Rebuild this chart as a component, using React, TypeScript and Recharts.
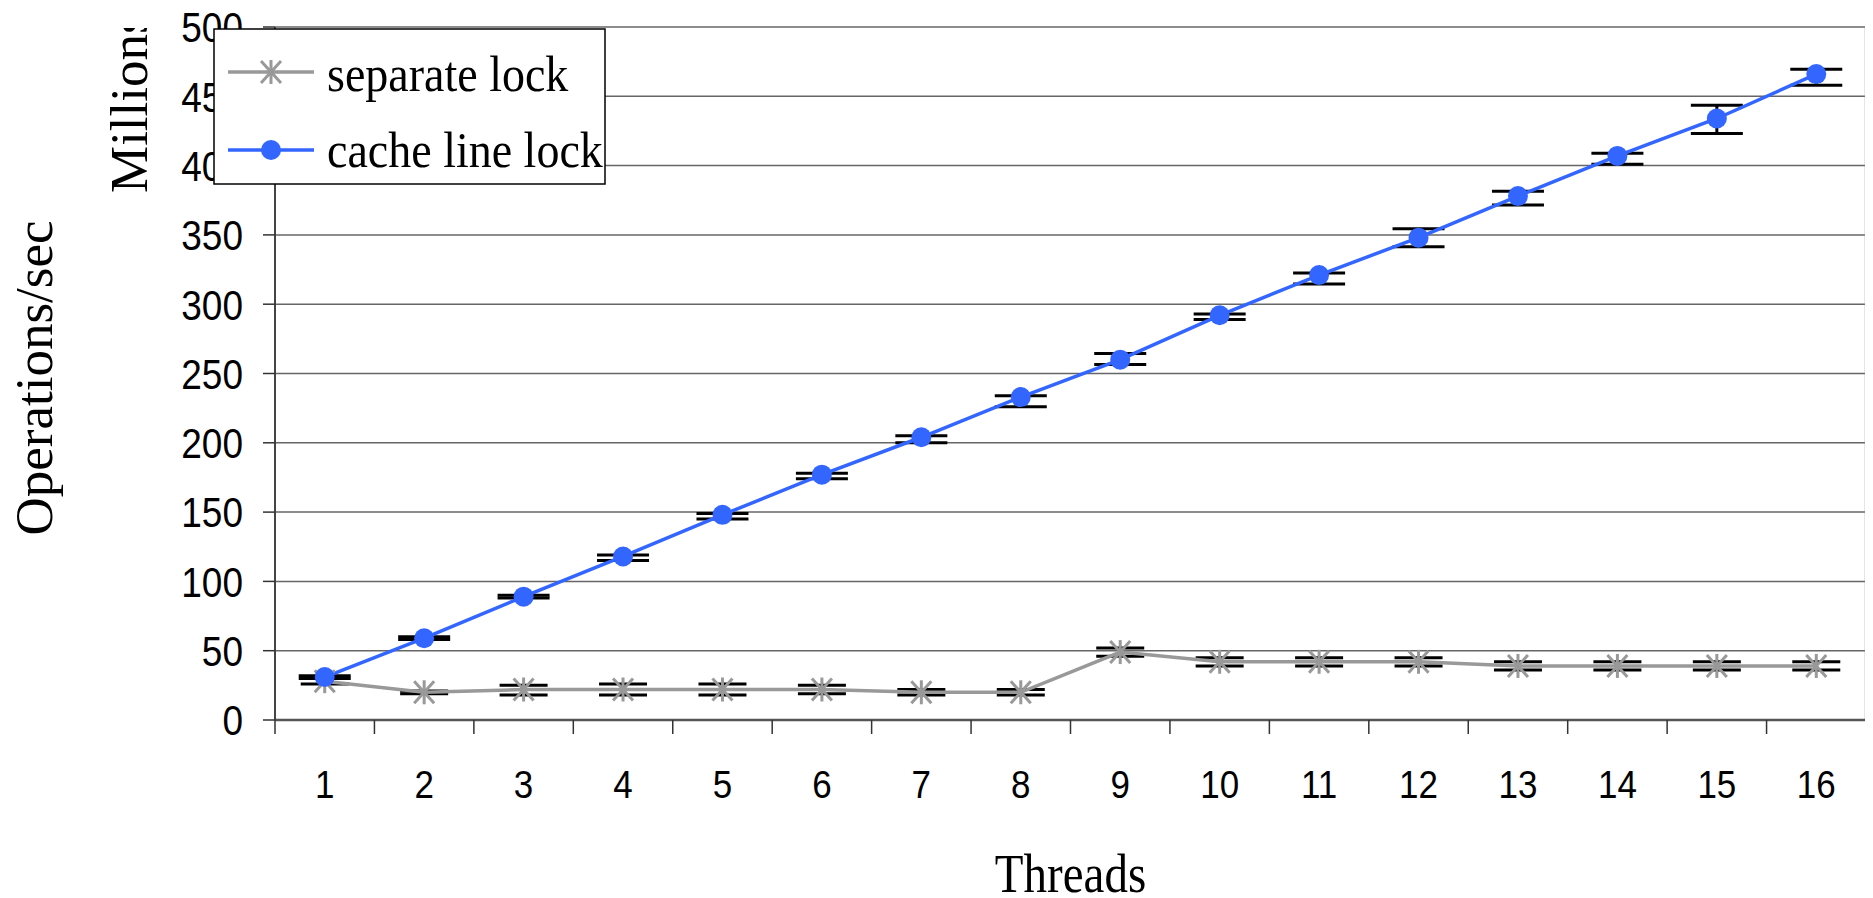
import React from 'react';
import {
  ComposedChart,
  Line,
  XAxis,
  YAxis,
  CartesianGrid,
  ErrorBar,
  Legend,
  ReferenceLine,
} from 'recharts';

const threads = [1, 2, 3, 4, 5, 6, 7, 8, 9, 10, 11, 12, 13, 14, 15, 16];
const separateLock = [28, 20, 22, 22, 22, 22, 20, 20, 49, 42, 42, 42, 39, 39, 39, 39];
const separateErrLow = [2, 1, 4, 4, 4, 3, 2, 2, 3, 3, 3, 3, 3, 3, 3, 3];
const separateErrHigh = [2, 1, 3, 4, 4, 3, 2, 2, 3, 3, 3, 3, 3, 3, 3, 3];
const cacheLineLock = [31, 59, 89, 118, 148, 177, 204, 233, 260, 292, 321, 348, 378, 407, 434, 466];
const cacheErrLow = [1, 1, 1, 3, 3, 3, 4, 7, 3.5, 3, 6.5, 6.5, 6.5, 6, 10.8, 8];
const cacheErrHigh = [1, 1, 1, 1, 1, 1, 1, 1, 4.5, 1, 1.5, 6.5, 3.5, 2, 9.5, 3.6];
const yTicks = [0, 50, 100, 150, 200, 250, 300, 350, 400, 450, 500];

const data = threads.map((t, i) => ({
  threads: t,
  separate: separateLock[i],
  separateErr: [separateErrLow[i], separateErrHigh[i]],
  cache: cacheLineLock[i],
  cacheErr: [cacheErrLow[i], cacheErrHigh[i]],
}));

// layout (svg coords)
const W = 1865;
const H = 890;
const PLOT_LEFT = 267;
const PLOT_RIGHT = 1858;
const PLOT_TOP = 19;
const PLOT_BOTTOM = 712;
const BAND = (PLOT_RIGHT - PLOT_LEFT) / threads.length;

const SERIF = '"Liberation Serif", "Times New Roman", serif';
const SANS = '"Liberation Sans", Arial, sans-serif';
const GRAY = '#999999';
const BLUE = '#3366FF';

function Asterisk({ cx, cy, color = GRAY }: { cx: number; cy: number; color?: string }) {
  return (
    <g stroke={color} strokeWidth={3} strokeLinecap="butt">
      <line x1={cx} y1={cy - 12} x2={cx} y2={cy + 12} />
      <line x1={cx - 10} y1={cy - 11} x2={cx + 10} y2={cy + 11} />
      <line x1={cx - 10} y1={cy + 11} x2={cx + 10} y2={cy - 11} />
    </g>
  );
}

function XTick(props: any) {
  const { x, payload, index } = props;
  return (
    <g>
      <line x1={x - BAND / 2} x2={x - BAND / 2} y1={PLOT_BOTTOM} y2={PLOT_BOTTOM + 14} stroke="#333" strokeWidth={1.5} />
      {index === threads.length - 1 && (
        <line x1={x + BAND / 2} x2={x + BAND / 2} y1={PLOT_BOTTOM} y2={PLOT_BOTTOM + 14} stroke="#333" strokeWidth={1.5} />
      )}
      <text
        transform={`translate(${x},${PLOT_BOTTOM + 78}) scale(1,1.12)`}
        textAnchor="middle"
        fontFamily={SANS}
        fontSize={35}
        fill="#000"
      >
        {payload.value}
      </text>
    </g>
  );
}

function YTick(props: any) {
  const { y, payload } = props;
  return (
    <text
      transform={`translate(235,${y}) scale(1,1.14)`}
      y={13.5}
      textAnchor="end"
      fontFamily={SANS}
      fontSize={37}
      fill="#000"
    >
      {payload.value}
    </text>
  );
}

function YLabels() {
  return (
    <g>
      <defs>
        <clipPath id="millionsClip">
          <rect x={0} y={PLOT_TOP + 1} width={PLOT_LEFT} height={H} />
        </clipPath>
      </defs>
      <text
        transform={`translate(44,370) rotate(-90)`}
        textAnchor="middle"
        fontFamily={SERIF}
        fontSize={53}
        fill="#000"
      >
        Operations/sec
      </text>
      <g clipPath="url(#millionsClip)">
        <text
          transform={`translate(139,185) rotate(-90)`}
          textAnchor="start"
          fontFamily={SERIF}
          fontSize={53}
          fill="#000"
        >
          Millions
        </text>
      </g>
    </g>
  );
}

function XLabel() {
  return (
    <text
      transform={`translate(${(PLOT_LEFT + PLOT_RIGHT) / 2},884) scale(1,1.18)`}
      textAnchor="middle"
      fontFamily={SERIF}
      fontSize={47}
      fill="#000"
    >
      Threads
    </text>
  );
}

function LegendBox() {
  return (
    <svg width={394} height={158} style={{ display: 'block' }}>
      <rect x={1} y={1} width={391} height={155} fill="#fff" stroke="#000" strokeWidth={1.5} />
      <line x1={15} x2={101} y1={44} y2={44} stroke={GRAY} strokeWidth={3.5} />
      <Asterisk cx={58} cy={44} />
      <text transform="translate(114,63) scale(1,1.12)" fontFamily={SERIF} fontSize={46} fill="#000">
        separate lock
      </text>
      <line x1={15} x2={101} y1={122} y2={122} stroke={BLUE} strokeWidth={3.5} />
      <circle cx={58} cy={122} r={10} fill={BLUE} />
      <text transform="translate(114,139) scale(1,1.12)" fontFamily={SERIF} fontSize={46} fill="#000">
        cache line lock
      </text>
    </svg>
  );
}

export default function App() {
  return (
    <div style={{ width: W, height: H, background: '#fff' }}>
      <ComposedChart width={W} height={H} data={data} margin={{ top: PLOT_TOP, right: W - PLOT_RIGHT, bottom: 0, left: 0 }}>
        <CartesianGrid vertical={false} stroke="#666" strokeWidth={1.5} />
        <XAxis
          dataKey="threads"
          type="number"
          domain={[0.5, 16.5]}
          ticks={threads}
          interval={0}
          height={H - PLOT_BOTTOM}
          tickLine={false}
          axisLine={{ stroke: '#555', strokeWidth: 2.5 }}
          tick={<XTick />}
          label={<XLabel />}
        />
        <YAxis
          type="number"
          domain={[0, 500]}
          ticks={yTicks}
          interval={0}
          width={PLOT_LEFT}
          tickSize={12}
          tickLine={{ stroke: '#333', strokeWidth: 1.5 }}
          axisLine={{ stroke: '#444', strokeWidth: 2 }}
          tick={<YTick />}
          label={<YLabels />}
        />
        <ReferenceLine x={16.5} stroke="#999" strokeWidth={2.5} />
        <Line
          dataKey="separate"
          stroke={GRAY}
          strokeWidth={3.5}
          isAnimationActive={false}
          dot={(p: any) => <Asterisk key={`s-${p.index}`} cx={p.cx} cy={p.cy} />}
          activeDot={false}
        >
          <ErrorBar dataKey="separateErr" direction="y" width={24} stroke="#000" strokeWidth={3} />
        </Line>
        <Line
          dataKey="cache"
          stroke={BLUE}
          strokeWidth={3.5}
          isAnimationActive={false}
          dot={{ r: 10, fill: BLUE, stroke: BLUE, strokeWidth: 0 }}
          activeDot={false}
        >
          <ErrorBar dataKey="cacheErr" direction="y" width={26} stroke="#000" strokeWidth={3} />
        </Line>
        <Legend
          layout="vertical"
          align="center"
          verticalAlign="middle"
          wrapperStyle={{ position: 'absolute', left: 205, top: 20, width: 394, height: 158 }}
          content={() => <LegendBox />}
        />
      </ComposedChart>
    </div>
  );
}
